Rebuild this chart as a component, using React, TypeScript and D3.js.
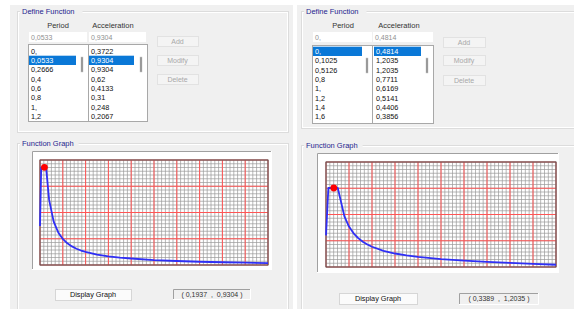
import React from "react";
import * as d3 from "d3";

// ---------- data ----------
const leftPeriods = [0, 0.0533, 0.2666, 0.4, 0.6, 0.8, 1, 1.2, 1.4, 1.6, 1.8, 2, 2.5, 3, 3.5, 4, 5, 6, 7, 8, 9, 10];
const leftAccel = [0.3722, 0.9304, 0.9304, 0.62, 0.4133, 0.31, 0.248, 0.2067, 0.1772, 0.155, 0.1378, 0.124, 0.0992, 0.0827, 0.0709, 0.062, 0.047, 0.038, 0.031, 0.026, 0.022, 0.018];
const leftListPeriod = ["0,", "0,0533", "0,2666", "0,4", "0,6", "0,8", "1,", "1,2"];
const leftListAccel = ["0,3722", "0,9304", "0,9304", "0,62", "0,4133", "0,31", "0,248", "0,2067"];
const leftInput = ["0,0533", "0,9304"];
const leftPoint = [0.1937, 0.9304];
const leftCoordLabel = "( 0,1937  ,  0,9304 )";

const rightPeriods = [0, 0.1025, 0.5126, 0.8, 1, 1.2, 1.4, 1.6, 1.8, 2, 2.5, 3, 3.5, 4, 5, 6, 7, 8, 9, 10];
const rightAccel = [0.4814, 1.2035, 1.2035, 0.7711, 0.6169, 0.5141, 0.4406, 0.3856, 0.3427, 0.3085, 0.2468, 0.2056, 0.1763, 0.1542, 0.12, 0.097, 0.079, 0.062, 0.047, 0.034];
const rightListPeriod = ["0,", "0,1025", "0,5126", "0,8", "1,", "1,2", "1,4", "1,6"];
const rightListAccel = ["0,4814", "1,2035", "1,2035", "0,7711", "0,6169", "0,5141", "0,4406", "0,3856"];
const rightInput = ["0,", "0,4814"];
const rightPoint = [0.3389, 1.2035];
const rightCoordLabel = "( 0,3389  ,  1,2035 )";

const periodDomain = [0, 10];
const leftAccDomain = [0, 1];
const rightAccDomain = [0, 1.6];
const columnHeaders = ["Period", "Acceleration"];
const buttonLabels = ["Add", "Modify", "Delete"];

// ---------- layout ----------
const FONT = "Tahoma, 'Liberation Sans', Arial, sans-serif";

const leftLayout = {
  bg: [10, 5, 283, 304],
  gb1: [17, 11, 271, 121], gb1TitleX: 22,
  hdr: [58, 113], hdrY: 25,
  in1: [29, 32, 58, 10], in2: [89, 32, 57, 10],
  list: [28, 44, 119, 77], div: 88,
  txtX: [31, 91], selX: [[29, 76], [89, 134]], sel: 1,
  thumbX: [82, 141], thumbY: [57, 72],
  btnX: 157, btnW: 41, btnY: [36, 55, 74],
  gb2: [17, 143, 271, 175], gb2TitleX: 22,
  outer: [32, 151, 240, 119],
  plot: [40, 160, 228, 105],
  disp: [55, 289, 76, 11],
  coord: [173, 289, 78, 11],
  rowTop: 46.4,
};
const rightLayout = {
  bg: [297, 5, 277, 304],
  gb1: [301, 11, 290, 117], gb1TitleX: 306,
  hdr: [343, 399], hdrY: 25,
  in1: [313, 32, 59, 10], in2: [373, 32, 60, 10],
  list: [312, 45, 121, 78], div: 372,
  txtX: [315, 376], selX: [[313, 362], [374, 421]], sel: 0,
  thumbX: [367, 427], thumbY: [58, 73],
  btnX: 443, btnW: 42, btnY: [37, 55, 75],
  gb2: [301, 145, 290, 175], gb2TitleX: 306,
  outer: [317, 153, 242, 120],
  plot: [326, 162, 230, 105],
  disp: [339, 293, 78, 11],
  coord: [459, 293, 80, 12],
  rowTop: 46.7,
};
const ROW_H = 9.3;

function GroupBox({ r, title, tx }: any) {
  const [x, y, w, h] = r;
  return (
    <g>
      <rect x={x + 0.5} y={y + 0.5} width={w} height={h} fill="none" stroke="#dcdcdc" />
      <rect x={x + 1.5} y={y + 1.5} width={w - 2} height={h - 2} fill="none" stroke="#ffffff" />
      <rect x={tx - 2} y={y - 4} width={title.length * 3.9 + 4} height={9} fill="#f0f0f0" />
      <text x={tx} y={y + 3} fontSize={7.5} fill="#25258f" fontFamily={FONT}>{title}</text>
    </g>
  );
}

function Sunken({ r, fill = "#ffffff" }: any) {
  const [x, y, w, h] = r;
  return (
    <g>
      <rect x={x} y={y} width={w} height={h} fill={fill} />
      <path d={`M${x + 0.5},${y + h} V${y + 0.5} H${x + w}`} stroke="#a0a0a0" fill="none" />
      <path d={`M${x + w - 0.5},${y} V${y + h - 0.5} H${x}`} stroke="#ffffff" fill="none" />
    </g>
  );
}

function Panel({ L, periods, accel, accDomain, listP, listA, input, point, coordLabel }: any) {
  const [px, py, pw, ph] = L.plot;
  const xs = d3.scaleLinear().domain(periodDomain).range([px, px + pw]);
  const ys = d3.scaleLinear().domain(accDomain).range([py + ph, py]);
  const majorX = d3.range(periodDomain[0], periodDomain[1] + 1e-9, 1);
  const minorX = d3.range(periodDomain[0], periodDomain[1] + 1e-9, 1 / 6);
  const majStep = (accDomain[1] - accDomain[0]) / 4;
  const majorY = d3.range(accDomain[0], accDomain[1] + 1e-9, majStep);
  const minorY = d3.range(accDomain[0], accDomain[1] + 1e-9, majStep / 7);
  const line = d3.line<number>().x((_, i) => xs(periods[i])).y((d) => ys(d));
  const [lx, ly, lw, lh] = L.list;

  return (
    <g fontFamily={FONT}>
      <rect x={L.bg[0]} y={L.bg[1]} width={L.bg[2]} height={L.bg[3]} fill="#f0f0f0" />
      <GroupBox r={L.gb1} title="Define Function" tx={L.gb1TitleX} />
      {columnHeaders.map((h, i) => (
        <text key={h} x={L.hdr[i]} y={L.hdrY + 2.5} fontSize={7.5} textAnchor="middle" fill="#333">{h}</text>
      ))}
      {[L.in1, L.in2].map((r: number[], i: number) => (
        <g key={i}>
          <rect x={r[0]} y={r[1]} width={r[2]} height={r[3]} fill="#ffffff" />
          <text x={r[0] + 2} y={r[1] + 7.5} fontSize={7} fill="#909090">{input[i]}</text>
        </g>
      ))}
      {/* list box */}
      <rect x={lx + 0.5} y={ly + 0.5} width={lw} height={lh} fill="#ffffff" stroke="#a8a8a8" />
      <line x1={L.div + 0.5} x2={L.div + 0.5} y1={ly} y2={ly + lh} stroke="#a8a8a8" />
      {[listP, listA].map((col: string[], c: number) => (
        <g key={c}>
          <rect x={L.selX[c][0]} y={L.rowTop + L.sel * ROW_H} width={L.selX[c][1] - L.selX[c][0]} height={ROW_H} fill="#0a78d7" />
          {col.map((t, i) => (
            <text key={i} x={L.txtX[c]} y={L.rowTop + i * ROW_H + 7.3} fontSize={7.3} fill={i === L.sel ? "#ffffff" : "#111"}>{t}</text>
          ))}
          <rect x={L.thumbX[c] - 1} y={L.thumbY[0]} width={2} height={L.thumbY[1] - L.thumbY[0]} fill="#8a8a8a" stroke="#c8c8c8" strokeWidth={0.5} />
        </g>
      ))}
      {buttonLabels.map((b, i) => (
        <g key={b}>
          <rect x={L.btnX + 0.5} y={L.btnY[i] + 0.5} width={L.btnW} height={10} fill="#f4f4f4" stroke="#e2e2e2" />
          <text x={L.btnX + L.btnW / 2} y={L.btnY[i] + 7.8} fontSize={7} textAnchor="middle" fill="#a8a8a8">{b}</text>
        </g>
      ))}

      <GroupBox r={L.gb2} title="Function Graph" tx={L.gb2TitleX} />
      <Sunken r={L.outer} />
      {/* plot grid */}
      <rect x={px} y={py} width={pw} height={ph} fill="#ffffff" />
      {minorX.map((v, i) => (
        <line key={"mx" + i} x1={xs(v)} x2={xs(v)} y1={py} y2={py + ph} stroke="#9a9a9a" strokeWidth={0.7} />
      ))}
      {minorY.map((v, i) => (
        <line key={"my" + i} x1={px} x2={px + pw} y1={ys(v)} y2={ys(v)} stroke="#9a9a9a" strokeWidth={0.7} />
      ))}
      {majorX.map((v, i) => (
        <line key={"Mx" + i} x1={xs(v)} x2={xs(v)} y1={py} y2={py + ph} stroke="#ff5555" strokeWidth={1} />
      ))}
      {majorY.map((v, i) => (
        <line key={"My" + i} x1={px} x2={px + pw} y1={ys(v)} y2={ys(v)} stroke="#ff5555" strokeWidth={1} />
      ))}
      <rect x={px} y={py} width={pw} height={ph} fill="none" stroke="#555555" strokeWidth={1} />
      <path d={line(accel) || ""} fill="none" stroke="#2f2ff5" strokeWidth={1.8} strokeLinejoin="round" />
      <circle cx={xs(point[0])} cy={ys(point[1])} r={3.4} fill="#ff0000" />

      {/* bottom controls */}
      <rect x={L.disp[0] + 0.5} y={L.disp[1] + 0.5} width={L.disp[2]} height={L.disp[3]} fill="#fbfbfb" stroke="#d6d6d6" />
      <text x={L.disp[0] + L.disp[2] / 2} y={L.disp[1] + 8} fontSize={7.3} textAnchor="middle" fill="#111">Display Graph</text>
      <Sunken r={L.coord} fill="#f0f0f0" />
      <text x={L.coord[0] + L.coord[2] / 2} y={L.coord[1] + 8} fontSize={7} textAnchor="middle" fill="#333" xmlSpace="preserve">{coordLabel}</text>
    </g>
  );
}

export default function App() {
  return (
    <svg width={574} height={309} style={{ position: "absolute", left: 0, top: 0, background: "#ffffff" }}>
      <Panel L={leftLayout} periods={leftPeriods} accel={leftAccel} accDomain={leftAccDomain}
        listP={leftListPeriod} listA={leftListAccel} input={leftInput} point={leftPoint} coordLabel={leftCoordLabel} />
      <Panel L={rightLayout} periods={rightPeriods} accel={rightAccel} accDomain={rightAccDomain}
        listP={rightListPeriod} listA={rightListAccel} input={rightInput} point={rightPoint} coordLabel={rightCoordLabel} />
    </svg>
  );
}
